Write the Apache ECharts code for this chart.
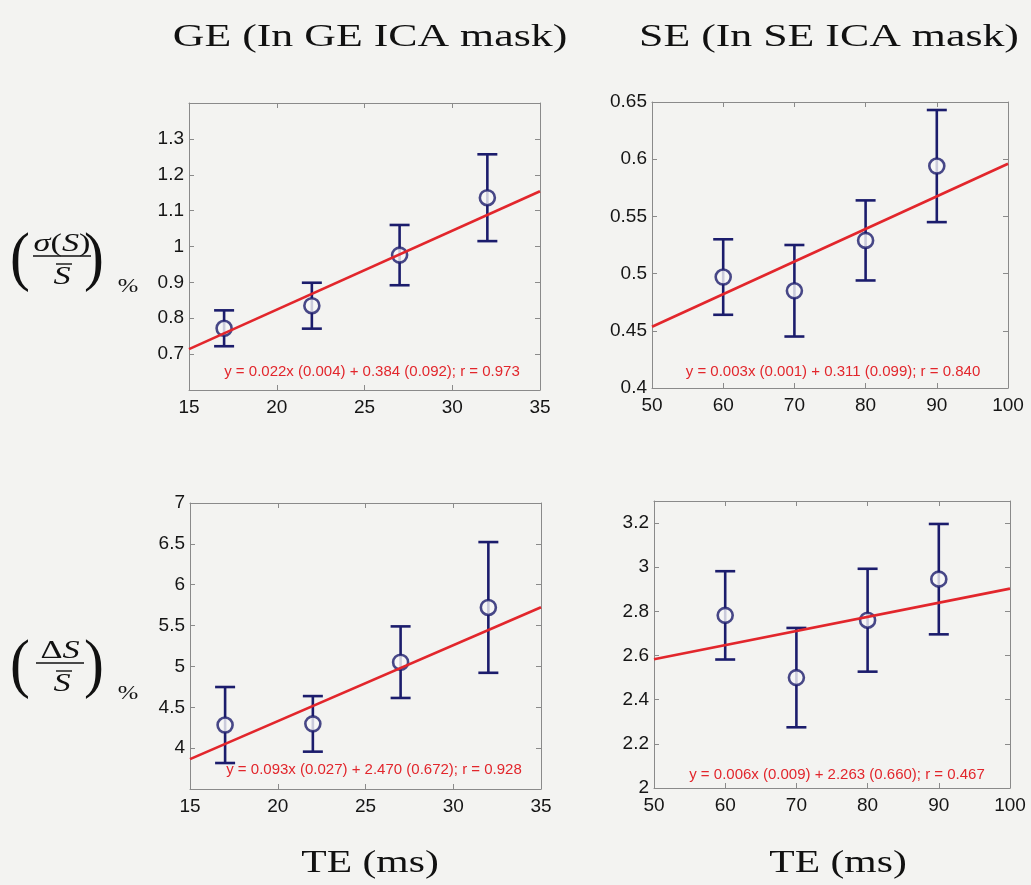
<!DOCTYPE html>
<html>
<head>
<meta charset="utf-8">
<script src="https://cdn.jsdelivr.net/npm/echarts@6/dist/echarts.min.js"></script>
<style>
  html, body { margin: 0; padding: 0; background: #f3f3f1; }
  #chart { width: 1031px; height: 885px; }
</style>
</head>
<body>
<div id="chart"></div>
<script>
// Echo times (ms)
const teGE = [17, 22, 27, 32];
const teSE = [60, 70, 80, 90];

// Temporal noise sigma(S)/mean(S) in %, mean and +/- error
const noiseGE = [0.772, 0.835, 0.976, 1.136];
const noiseGEErr = [0.050, 0.064, 0.084, 0.121];
const noiseSE = [0.497, 0.485, 0.529, 0.594];
const noiseSEErr = [0.033, 0.040, 0.035, 0.049];

// Signal change dS/mean(S) in %, mean and +/- error
const changeGE = [4.283, 4.297, 5.052, 5.722];
const changeGEErr = [0.465, 0.340, 0.438, 0.800];
const changeSE = [2.782, 2.500, 2.760, 2.946];
const changeSEErr = [0.200, 0.225, 0.233, 0.250];

// Linear fits: [slope, slope SE, intercept, intercept SE, r]
const fitNoiseGE = [0.022, 0.004, 0.384, 0.092, 0.973];
const fitNoiseSE = [0.00285, 0.001, 0.311, 0.099, 0.840];
const fitChangeGE = [0.093, 0.027, 2.470, 0.672, 0.928];
const fitChangeSE = [0.0064, 0.009, 2.263, 0.660, 0.467];

// Axis ranges: [min, max, tick step]
const xRangeGE = [15, 35, 5];
const xRangeSE = [50, 100, 10];
const yRangeNoiseGE = [0.6, 1.4, 0.1];
const yRangeNoiseSE = [0.4, 0.65, 0.05];
const yRangeChangeGE = [3.5, 7, 0.5];
const yRangeChangeSE = [2, 3.3, 0.2];

// Column titles and axis text
const columnTitles = ['GE (In GE ICA mask)', 'SE (In SE ICA mask)'];
const xTitle = 'TE (ms)';

const NAVY = '#1b1c6c';
const RED = '#e2262c';
const AXIS = '#8a8a8a';
const INK = '#111';
const SANS = '"Liberation Sans", Arial, sans-serif';
const SERIF = '"Liberation Serif", "Times New Roman", serif';
const WIDE = 1.37;   // horizontal stretch of the serif lettering

const panels = [
  { grid: { left: 189, top: 103, width: 351, height: 287 }, xr: xRangeGE, yr: yRangeNoiseGE,
    xs: teGE, ys: noiseGE, err: noiseGEErr, fit: fitNoiseGE, minLabel: false, maxLabel: false, fitPos: [372, 372] },
  { grid: { left: 652, top: 102, width: 356, height: 286 }, xr: xRangeSE, yr: yRangeNoiseSE,
    xs: teSE, ys: noiseSE, err: noiseSEErr, fit: fitNoiseSE, minLabel: true, maxLabel: true, fitPos: [833, 372] },
  { grid: { left: 190, top: 503, width: 351, height: 286 }, xr: xRangeGE, yr: yRangeChangeGE,
    xs: teGE, ys: changeGE, err: changeGEErr, fit: fitChangeGE, minLabel: false, maxLabel: true, fitPos: [374, 770] },
  { grid: { left: 654, top: 501, width: 356, height: 287 }, xr: xRangeSE, yr: yRangeChangeSE,
    xs: teSE, ys: changeSE, err: changeSEErr, fit: fitChangeSE, minLabel: true, maxLabel: false, fitPos: [837, 775] }
];

function fitText(f) {
  return 'y = ' + f[0].toFixed(3) + 'x (' + f[1].toFixed(3) + ') + ' + f[2].toFixed(3) +
    ' (' + f[3].toFixed(3) + '); r = ' + f[4].toFixed(3);
}

function axisBase(range, showLabels, position, gridIndex, minLabel, maxLabel, margin) {
  return {
    type: 'value', gridIndex, position,
    min: range[0], max: range[1], interval: range[2],
    axisLine: { show: true, onZero: false, lineStyle: { color: AXIS, width: 1 } },
    axisTick: { show: true, inside: true, length: 5, lineStyle: { color: AXIS, width: 1 } },
    splitLine: { show: false },
    axisLabel: {
      show: showLabels, color: '#151515', fontSize: 19, fontFamily: SANS, margin,
      showMinLabel: minLabel, showMaxLabel: maxLabel
    }
  };
}

function errorBarItem(params, api) {
  const x = api.value(0), y = api.value(1), e = api.value(2);
  const hi = api.coord([x, y + e]);
  const lo = api.coord([x, y - e]);
  const w = 10;
  const st = () => ({ stroke: NAVY, lineWidth: 2.6, fill: null });
  return {
    type: 'group',
    children: [
      { type: 'line', shape: { x1: hi[0], y1: hi[1], x2: lo[0], y2: lo[1] }, style: st() },
      { type: 'line', shape: { x1: hi[0] - w, y1: hi[1], x2: hi[0] + w, y2: hi[1] }, style: st() },
      { type: 'line', shape: { x1: lo[0] - w, y1: lo[1], x2: lo[0] + w, y2: lo[1] }, style: st() }
    ]
  };
}

const grid = [], xAxis = [], yAxis = [], series = [], graphic = [];

panels.forEach((p, i) => {
  grid.push(Object.assign({ containLabel: false }, p.grid));
  xAxis.push(axisBase(p.xr, true, 'bottom', i, true, true, 8));
  xAxis.push(axisBase(p.xr, false, 'top', i, true, true, 8));
  yAxis.push(axisBase(p.yr, true, 'left', i, p.minLabel, p.maxLabel, 5));
  yAxis.push(axisBase(p.yr, false, 'right', i, true, true, 5));
  const xi = 2 * i, yi = 2 * i;

  series.push({
    type: 'custom', xAxisIndex: xi, yAxisIndex: yi, z: 2,
    renderItem: errorBarItem,
    data: p.xs.map((x, k) => [x, p.ys[k], p.err[k]])
  });
  series.push({
    type: 'scatter', xAxisIndex: xi, yAxisIndex: yi, z: 3,
    symbol: 'circle', symbolSize: 15,
    itemStyle: { color: '#f8f8f7', borderColor: NAVY, borderWidth: 2.6 },
    data: p.xs.map((x, k) => [x, p.ys[k]])
  });
  const a = p.fit[0], b = p.fit[2];
  series.push({
    type: 'line', xAxisIndex: xi, yAxisIndex: yi, z: 4,
    symbol: 'none', clip: true,
    lineStyle: { color: RED, width: 2.6 },
    data: [[p.xr[0], a * p.xr[0] + b], [p.xr[1], a * p.xr[1] + b]]
  });

  graphic.push({
    type: 'text', x: p.fitPos[0], y: p.fitPos[1], z: 10,
    style: { text: fitText(p.fit), fill: RED, fontSize: 15, fontFamily: SANS, align: 'center', verticalAlign: 'middle' }
  });
});

// Serif text helper, stretched horizontally about its anchor
function serifText(x, y, style, sx, sy) {
  return {
    type: 'text', x, y, scaleX: sx || WIDE, scaleY: sy || 1,
    style: Object.assign({ fill: INK, fontFamily: SERIF, align: 'center', verticalAlign: 'middle' }, style)
  };
}

// Column titles and x-axis titles
const titleX = [370, 829];
const teX = [370, 838];
columnTitles.forEach((t, i) => {
  graphic.push(serifText(titleX[i], 38, { text: t, fontSize: 32 }));
  graphic.push(serifText(teX[i], 864, { text: xTitle, fontSize: 32 }, 1.3));
});

// Row labels written as fractions in parentheses with a % subscript
function rowLabel(cy, numer, barHalf, sx) {
  const els = [];
  els.push(serifText(20, cy, { text: '(', fontSize: 46 }, 1.3, 1.42));
  els.push(serifText(94, cy, { text: ')', fontSize: 46 }, 1.3, 1.42));
  els.push(serifText(sx, cy - 17, {
    text: numer,
    rich: {
      i: { fontSize: 25, fontStyle: 'italic', fontFamily: SERIF, fill: INK },
      r: { fontSize: 25, fontFamily: SERIF, fill: INK }
    }
  }));
  els.push({ type: 'line', shape: { x1: sx - barHalf, y1: cy - 5, x2: sx + barHalf, y2: cy - 5 }, style: { stroke: INK, lineWidth: 1.4 } });
  els.push(serifText(62, cy + 16, { text: 'S', fontSize: 25, fontStyle: 'italic' }));
  els.push({ type: 'line', shape: { x1: 56, y1: cy + 3, x2: 72, y2: cy + 3 }, style: { stroke: INK, lineWidth: 1.4 } });
  els.push(serifText(128, cy + 26, { text: '%', fontSize: 18 }));
  return els;
}
rowLabel(261, '{i|σ}{r|(}{i|S}{r|)}', 29, 62).forEach(e => graphic.push(e));
rowLabel(668, '{r|Δ}{i|S}', 24, 60).forEach(e => graphic.push(e));

const chart = echarts.init(document.getElementById('chart'), null, { renderer: 'canvas' });
chart.setOption({
  backgroundColor: '#f3f3f1',
  animation: false,
  grid, xAxis, yAxis, series, graphic
});
</script>
</body>
</html>
